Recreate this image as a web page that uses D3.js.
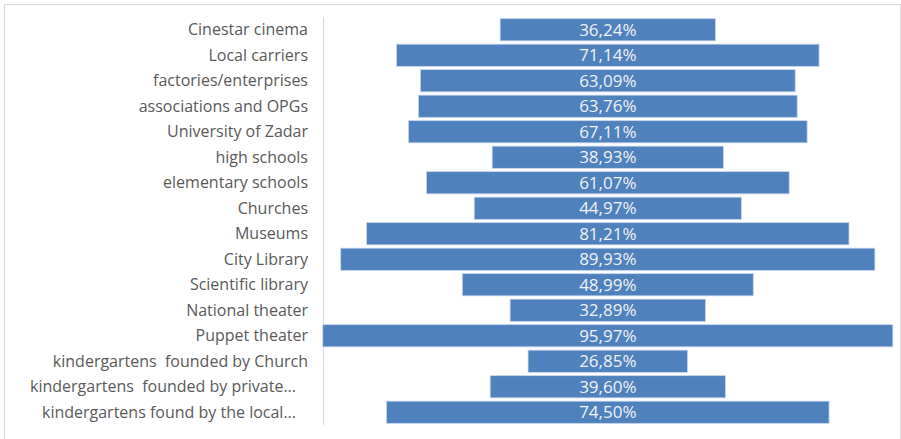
<!DOCTYPE html>
<html>
<head>
<meta charset="utf-8">
<script src="https://cdn.jsdelivr.net/npm/d3@7"></script>
<style>
  html, body { margin: 0; padding: 0; background: #fff; }
  svg { display: block; }
  text { white-space: pre; }
</style>
</head>
<body>
<svg id="chart" width="901" height="439"></svg>
<script>
// Categories, top to bottom
const categories = [
  "Cinestar cinema",
  "Local carriers",
  "factories/enterprises",
  "associations and OPGs",
  "University of Zadar",
  "high schools",
  "elementary schools",
  "Churches",
  "Museums",
  "City Library",
  "Scientific library",
  "National theater",
  "Puppet theater",
  "kindergartens  founded by Church",
  "kindergartens  founded by private institutions",
  "kindergartens found by the local government"
];

// Share of respondents, in percent
const values = [36.24, 71.14, 63.09, 63.76, 67.11, 38.93, 61.07, 44.97, 81.21, 89.93, 48.99, 32.89, 95.97, 26.85, 39.60, 74.50];

const svg = d3.select("#chart");
const W = 901, H = 439;

// Outer frame
svg.append("rect")
  .attr("x", 4.5).attr("y", 4.5)
  .attr("width", W - 5).attr("height", H - 3.5)
  .attr("fill", "#fff").attr("stroke", "#D9D9D9").attr("stroke-width", 1);

const plot = { left: 323, top: 17, bottom: 425, center: 607.8 };

const y = d3.scaleBand()
  .domain(categories)
  .range([plot.top, plot.bottom])
  .paddingInner(0.13)
  .paddingOuter(0.065);

// Half-width scale: bars are centred on the middle of the plot
const half = d3.scaleLinear().domain([0, 100]).range([0, 297]);

const locale = d3.formatLocale({ decimal: ",", thousands: ".", grouping: [3], currency: ["", ""] });
const fmt = locale.format(".2f");

// Category axis
const axisG = svg.append("g").attr("transform", `translate(${plot.left},0)`);
axisG.append("line")
  .attr("x1", 0.5).attr("x2", 0.5)
  .attr("y1", plot.top).attr("y2", plot.bottom)
  .attr("stroke", "#D9D9D9").attr("stroke-width", 1);

const fontFamily = "'Open Sans', 'Noto Sans', sans-serif";
const maxLabel = 282;

// Long labels are cut at a word boundary and given an ellipsis
axisG.selectAll("text.cat")
  .data(categories)
  .join("text")
  .attr("class", "cat")
  .attr("x", -15)
  .attr("y", d => y(d) + y.bandwidth() / 2)
  .attr("dy", "0.35em")
  .attr("text-anchor", "end")
  .attr("fill", "#595959")
  .style("font-family", fontFamily)
  .style("font-size", "16px")
  .text(d => d)
  .each(function (d) {
    const t = d3.select(this);
    if (this.getComputedTextLength() > maxLabel) {
      const words = d.split(" ");
      while (words.length > 1) {
        words.pop();
        t.text(words.join(" ") + "...");
        if (this.getComputedTextLength() <= maxLabel) break;
      }
      t.attr("x", -27);
    }
  });

// Bars
const rows = categories.map((c, i) => ({ c, v: values[i] }));

svg.append("g").selectAll("rect")
  .data(rows)
  .join("rect")
  .attr("x", d => plot.center - half(d.v))
  .attr("y", d => y(d.c))
  .attr("width", d => 2 * half(d.v))
  .attr("height", y.bandwidth())
  .attr("fill", "#4F81BD")
  .attr("stroke", "#C6D4EA")
  .attr("stroke-width", 0.8);

// Value labels
svg.append("g").selectAll("text")
  .data(rows)
  .join("text")
  .attr("x", plot.center)
  .attr("y", d => y(d.c) + y.bandwidth() / 2)
  .attr("dy", "0.35em")
  .attr("text-anchor", "middle")
  .attr("fill", "#F2F2F2")
  .style("font-family", fontFamily)
  .style("font-size", "17px")
  .text(d => fmt(d.v) + "%");
</script>
</body>
</html>
